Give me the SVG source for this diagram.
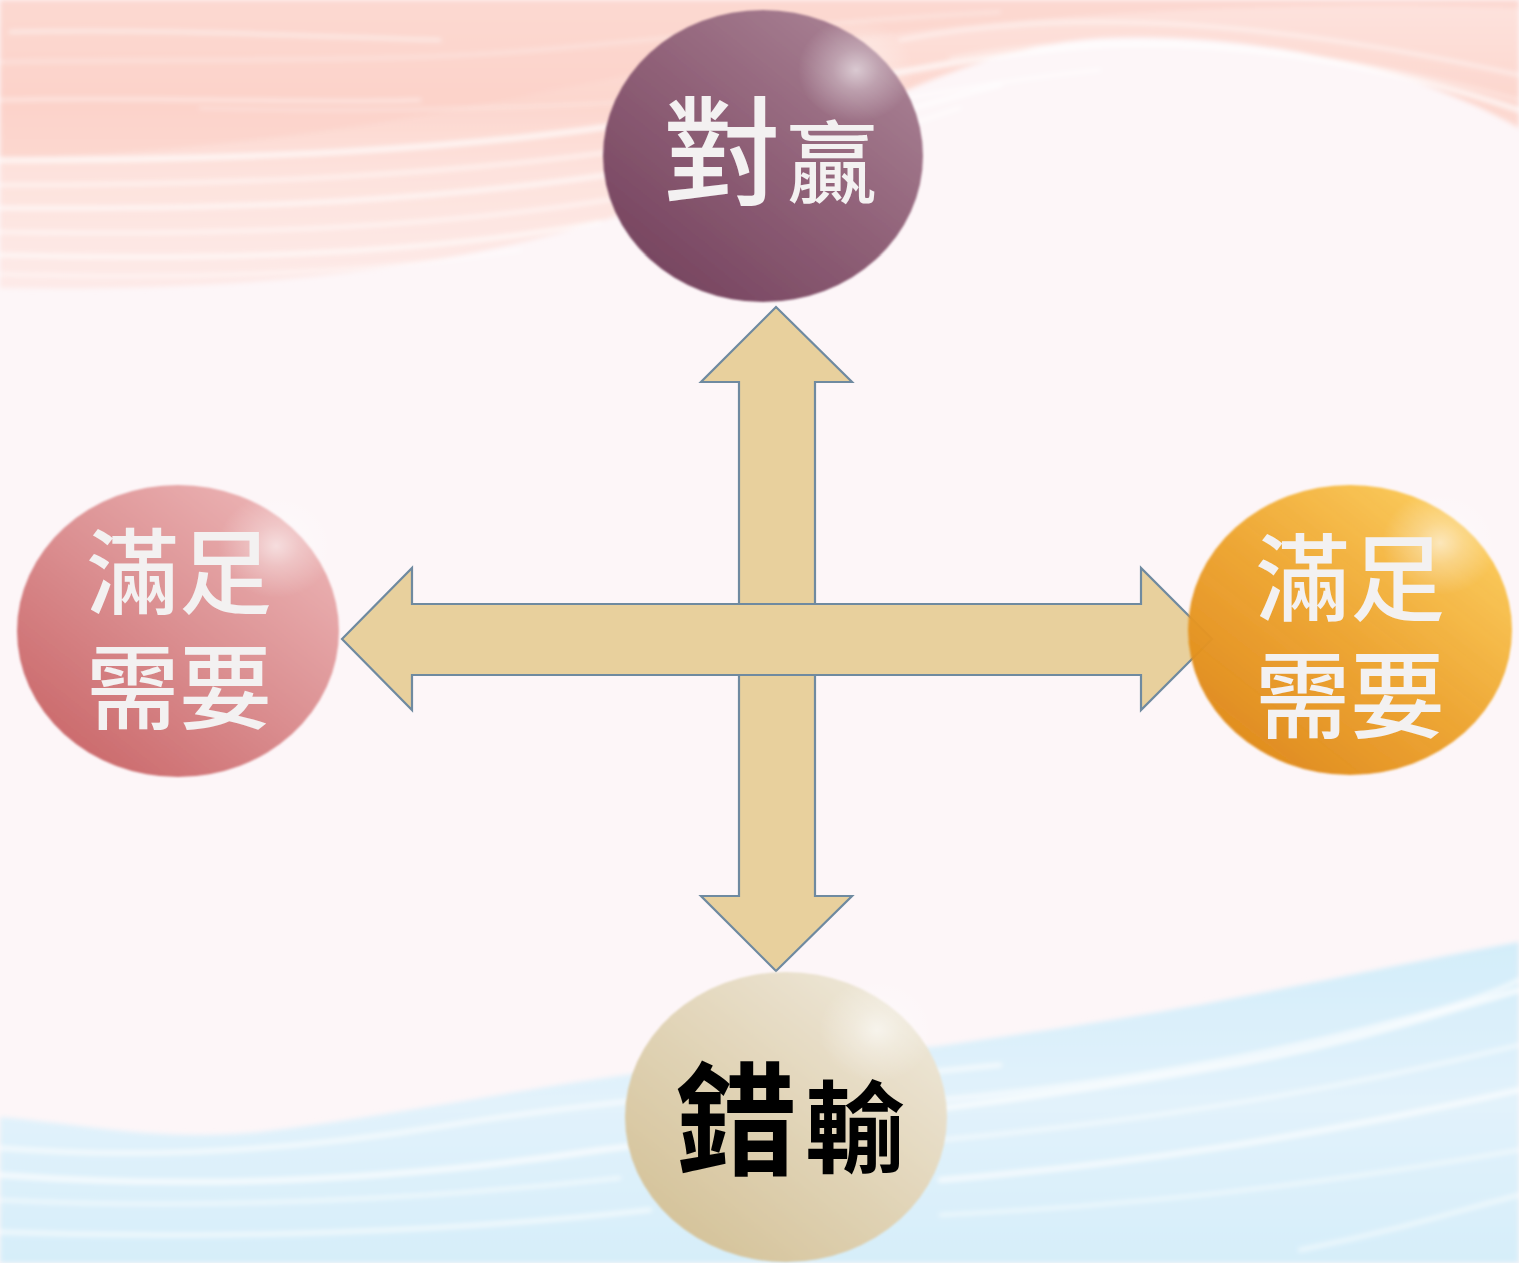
<svg xmlns="http://www.w3.org/2000/svg" width="1519" height="1263" viewBox="0 0 1519 1263">
  <style>
    .arrow { fill: #e8d09d; stroke: #6f8aa0; stroke-width: 2.2; stroke-linejoin: miter; }
    .label { font-family: "Noto Sans CJK TC", "Noto Sans CJK SC", sans-serif; text-anchor: middle; }
    .light { fill: #f3f1f1; font-weight: 500; }
    .dark { fill: #000000; font-weight: 700; }
    .streak { fill: none; stroke-linecap: round; }
  </style>
  <defs>
    <filter id="soft" x="-10%" y="-10%" width="120%" height="120%">
      <feGaussianBlur stdDeviation="0.9"/>
    </filter>
    <filter id="haze" x="-5%" y="-20%" width="110%" height="140%">
      <feGaussianBlur stdDeviation="2.5"/>
    </filter>
    <linearGradient id="pinkBand" x1="0" y1="0" x2="0" y2="1">
      <stop offset="0" stop-color="#fde2dc"/>
      <stop offset="0.35" stop-color="#fcd4cb"/>
      <stop offset="0.6" stop-color="#fde1db"/>
      <stop offset="1" stop-color="#fde9e7"/>
    </linearGradient>
    <linearGradient id="blueBand" x1="0" y1="0" x2="0" y2="1">
      <stop offset="0" stop-color="#d3edf9"/>
      <stop offset="0.5" stop-color="#e2f2fb"/>
      <stop offset="1" stop-color="#d6eef9"/>
    </linearGradient>
    <linearGradient id="gPurple" x1="0.15" y1="0.9" x2="0.85" y2="0.1">
      <stop offset="0" stop-color="#774560"/>
      <stop offset="0.5" stop-color="#8f6077"/>
      <stop offset="1" stop-color="#a88093"/>
    </linearGradient>
    <linearGradient id="gPink" x1="0.15" y1="0.9" x2="0.85" y2="0.1">
      <stop offset="0" stop-color="#cb6a6c"/>
      <stop offset="0.5" stop-color="#db8f91"/>
      <stop offset="1" stop-color="#ebb2b3"/>
    </linearGradient>
    <linearGradient id="gOrange" x1="0.15" y1="0.9" x2="0.85" y2="0.1">
      <stop offset="0" stop-color="#df8816" stop-opacity="0.96"/>
      <stop offset="0.5" stop-color="#eea632" stop-opacity="0.98"/>
      <stop offset="1" stop-color="#fbcb5c"/>
    </linearGradient>
    <linearGradient id="gBeige" x1="0.15" y1="0.9" x2="0.85" y2="0.1">
      <stop offset="0" stop-color="#d5c39a"/>
      <stop offset="0.5" stop-color="#e1d4b7"/>
      <stop offset="1" stop-color="#ede6d6"/>
    </linearGradient>
    <radialGradient id="shine">
      <stop offset="0" stop-color="#ffffff" stop-opacity="0.6"/>
      <stop offset="0.4" stop-color="#ffffff" stop-opacity="0.3"/>
      <stop offset="1" stop-color="#ffffff" stop-opacity="0"/>
    </radialGradient>
  </defs>

  <!-- page -->
  <rect width="1519" height="1263" fill="#fdf6f8"/>

  <!-- upper brush band -->
  <g id="upper-band" filter="url(#haze)">
    <path d="M0,0 H1519 V128 C1420,70 1250,30 1100,38 C950,48 820,140 620,215 C450,270 250,292 0,288 Z" fill="url(#pinkBand)" opacity="0.95"/>
    <path d="M0,0 H1519 V8 C1300,0 1000,10 700,60 C500,100 300,150 0,158 Z" fill="#fcd0c7" opacity="0.55"/>
    <g class="streak" stroke="#ffffff">
      <path d="M10,32 C150,28 300,36 440,40" stroke-width="3" opacity="0.6"/>
      <path d="M0,62 C200,58 400,64 560,48 C700,35 850,20 1000,12" stroke-width="2" opacity="0.5"/>
      <path d="M0,100 C150,96 300,104 420,100" stroke-width="3" opacity="0.5"/>
      <path d="M200,108 C350,112 500,110 660,100" stroke-width="2" opacity="0.45"/>
      <path d="M0,160 C250,160 450,150 620,125 C800,95 950,55 1100,45 C1250,38 1400,70 1519,110" stroke-width="5" opacity="0.8"/>
      <path d="M0,185 C250,185 450,175 640,148 C800,120 950,85 1100,70" stroke-width="3" opacity="0.7"/>
      <path d="M0,208 C250,210 450,200 640,170 C780,148 900,110 1000,85" stroke-width="4" opacity="0.75"/>
      <path d="M0,232 C250,236 450,226 620,198 C760,172 880,135 960,108" stroke-width="3" opacity="0.7"/>
      <path d="M0,255 C250,262 450,250 600,222" stroke-width="4" opacity="0.75"/>
      <path d="M0,274 C200,280 380,272 520,250" stroke-width="3" opacity="0.6"/>
      <path d="M900,40 C1050,10 1250,15 1519,75" stroke-width="3" opacity="0.6"/>
      <path d="M950,58 C1100,28 1300,40 1519,100" stroke-width="2" opacity="0.55"/>
    </g>
  </g>

  <!-- lower brush band -->
  <g id="lower-band" filter="url(#haze)">
    <path d="M0,1117 C80,1124 160,1142 260,1132 C420,1112 560,1080 700,1066 C800,1056 880,1052 940,1046 C1050,1030 1150,1015 1240,997 C1340,978 1430,958 1519,942 V1263 H0 Z" fill="url(#blueBand)"/>
    <g class="streak" stroke="#ffffff">
      <path d="M0,1148 C150,1160 300,1150 450,1125 C600,1100 800,1085 1000,1065" stroke-width="4" opacity="0.75"/>
      <path d="M0,1175 C200,1190 400,1180 600,1150 C800,1125 1000,1105 1200,1070 C1350,1045 1450,1010 1519,990" stroke-width="5" opacity="0.8"/>
      <path d="M0,1200 C200,1210 420,1200 620,1178" stroke-width="3" opacity="0.7"/>
      <path d="M0,1232 C220,1240 450,1232 650,1210" stroke-width="4" opacity="0.7"/>
      <path d="M940,1100 C1100,1085 1250,1060 1400,1020 C1460,1005 1500,990 1519,980" stroke-width="4" opacity="0.75"/>
      <path d="M940,1140 C1100,1125 1300,1100 1519,1045" stroke-width="3" opacity="0.7"/>
      <path d="M940,1180 C1120,1165 1300,1140 1519,1090" stroke-width="5" opacity="0.75"/>
      <path d="M940,1215 C1150,1205 1350,1180 1519,1150" stroke-width="3" opacity="0.65"/>
      <path d="M1300,1250 C1400,1230 1460,1210 1519,1195" stroke-width="4" opacity="0.6"/>
    </g>
  </g>

  <!-- double arrows: vertical first, horizontal laid over it -->
  <g id="connectors">
    <polygon id="arrow-vertical" class="arrow" points="776,307 852,382 815,382 815,896 852,896 776,971 701,896 739,896 739,382 701,382"/>
    <polygon id="arrow-horizontal" class="arrow" points="342,639 412,568 412,604 1141,604 1141,568 1212,639 1141,710 1141,675 412,675 412,710"/>
  </g>

  <g id="node-top">
    <ellipse cx="763" cy="156" rx="160" ry="146" fill="url(#gPurple)" filter="url(#soft)"/>
    <ellipse cx="856" cy="70" rx="58" ry="52" fill="url(#shine)"/>
    <text class="label light" x="770" y="196"><tspan font-size="118">對</tspan><tspan font-size="90" dx="6">贏</tspan></text>
  </g>

  <g id="node-left">
    <ellipse cx="178" cy="631" rx="161" ry="146" fill="url(#gPink)" filter="url(#soft)"/>
    <ellipse cx="276" cy="546" rx="58" ry="52" fill="url(#shine)"/>
    <text class="label light" font-size="93" x="179" y="607">滿足<tspan x="179" dy="115">需要</tspan></text>
  </g>

  <g id="node-right">
    <ellipse cx="1350" cy="630" rx="162" ry="145" fill="url(#gOrange)" filter="url(#soft)"/>
    <ellipse cx="1440" cy="543" rx="58" ry="52" fill="url(#shine)"/>
    <text class="label light" font-size="95" x="1350" y="614">滿足<tspan x="1350" dy="117">需要</tspan></text>
  </g>

  <g id="node-bottom">
    <ellipse cx="786" cy="1117" rx="161" ry="145" fill="url(#gBeige)" filter="url(#soft)"/>
    <ellipse cx="877" cy="1030" rx="58" ry="52" fill="url(#shine)"/>
    <text class="label dark" x="790" y="1165"><tspan font-size="122">錯</tspan><tspan font-size="100" dx="8">輸</tspan></text>
  </g>
</svg>
